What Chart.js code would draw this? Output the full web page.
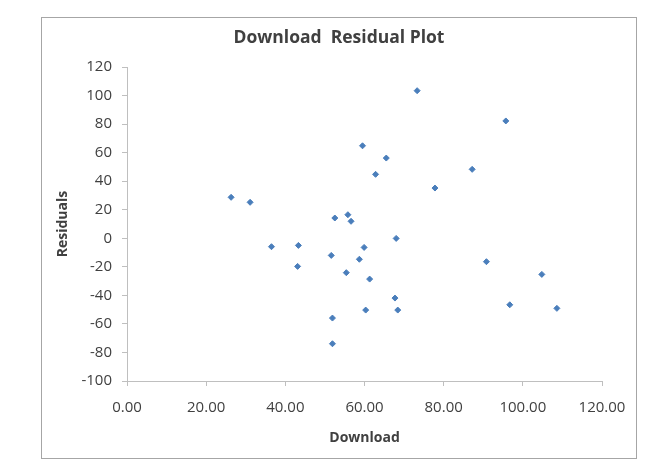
<!DOCTYPE html>
<html>
<head>
<meta charset="utf-8">
<script src="https://cdn.jsdelivr.net/npm/chart.js@4/dist/chart.umd.min.js"></script>
<style>
  html, body { margin: 0; padding: 0; background: #ffffff; }
  #frame { position: absolute; left: 41px; top: 17px; width: 594px; height: 440px; border: 1px solid #a6a6a6; }
  #wrap { position: absolute; left: 42px; top: 18px; width: 594px; height: 440px; }
</style>
</head>
<body>
<div id="frame"></div>
<div id="wrap"><canvas id="c" width="594" height="440"></canvas></div>
<script>
const titleText = "Download  Residual Plot";
const xTitle = "Download";
const yTitle = "Residuals";

const downloadValues = [26.3, 31.1, 36.5, 43.3, 43.1, 51.6, 51.9, 51.9, 52.5, 55.8,
                        56.6, 55.4, 58.7, 59.9, 60.3, 59.5, 61.3, 62.8, 65.5, 67.7,
                        68.0, 68.4, 73.3, 77.8, 87.2, 90.8, 95.7, 96.7, 104.8, 108.6];
const residualValues = [28.7, 25.2, -5.9, -5.0, -19.7, -12.0, -55.9, -73.9, 14.2, 16.5,
                        11.9, -24.1, -14.7, -6.4, -50.3, 64.8, -28.6, 44.8, 56.2, -41.9,
                        -0.1, -50.3, 103.4, 35.2, 48.3, -16.4, 82.2, -46.6, -25.3, -49.1];

const xMin = 0, xMax = 120, xStep = 20;
const yMin = -100, yMax = 120, yStep = 20;

const points = downloadValues.map((x, i) => ({ x: x, y: residualValues[i] }));

const fontFamily = "'Open Sans', 'Liberation Sans', sans-serif";
const axisColor = '#bfbfbf';
const textColor = '#404040';

new Chart(document.getElementById('c'), {
  type: 'scatter',
  data: {
    datasets: [{
      label: 'Residuals',
      data: points,
      pointStyle: 'rectRot',
      pointRadius: 3,
      pointBorderWidth: 1,
      backgroundColor: '#4a7ebb',
      borderColor: '#4a7ebb'
    }]
  },
  options: {
    responsive: false,
    animation: false,
    devicePixelRatio: 1,
    layout: { padding: { left: 0, right: 0, top: 0, bottom: 0 } },
    plugins: {
      legend: { display: false },
      tooltip: { enabled: false },
      title: {
        display: true,
        text: titleText,
        color: textColor,
        font: { family: fontFamily, size: 17.5, weight: 'bold', lineHeight: 1.2 },
        padding: { top: 10, bottom: 18 }
      }
    },
    scales: {
      x: {
        type: 'linear',
        min: xMin, max: xMax,
        afterFit: (s) => { s.height = 77; s.paddingRight = 0; s.paddingLeft = 0; },
        grid: { display: true, drawOnChartArea: false, drawTicks: true, tickLength: 5, color: axisColor },
        border: { display: true, color: axisColor, width: 1 },
        ticks: {
          stepSize: xStep, padding: 13, color: textColor,
          font: { family: fontFamily, size: 15 },
          callback: (v) => Number(v).toFixed(2)
        },
        title: {
          display: true, text: xTitle, color: textColor,
          font: { family: fontFamily, size: 14, weight: 'bold', lineHeight: 1.2 },
          padding: { top: 0, bottom: 12 }
        }
      },
      y: {
        type: 'linear',
        min: yMin, max: yMax,
        afterFit: (s) => { s.width = 85; },
        grid: { display: true, drawOnChartArea: false, drawTicks: true, tickLength: 5, color: axisColor },
        border: { display: true, color: axisColor, width: 1 },
        ticks: {
          stepSize: yStep, padding: 10, color: textColor,
          font: { family: fontFamily, size: 15 }
        },
        title: {
          display: true, text: yTitle, color: textColor,
          font: { family: fontFamily, size: 14, weight: 'bold', lineHeight: 1.2 },
          padding: { top: 13, bottom: 0 }
        }
      },
      yRight: {
        type: 'linear',
        position: 'right',
        min: yMin, max: yMax,
        afterFit: (s) => { s.width = 34; },
        grid: { display: false },
        border: { display: false },
        ticks: { display: false },
        title: { display: false }
      }
    }
  }
});
</script>
</body>
</html>
